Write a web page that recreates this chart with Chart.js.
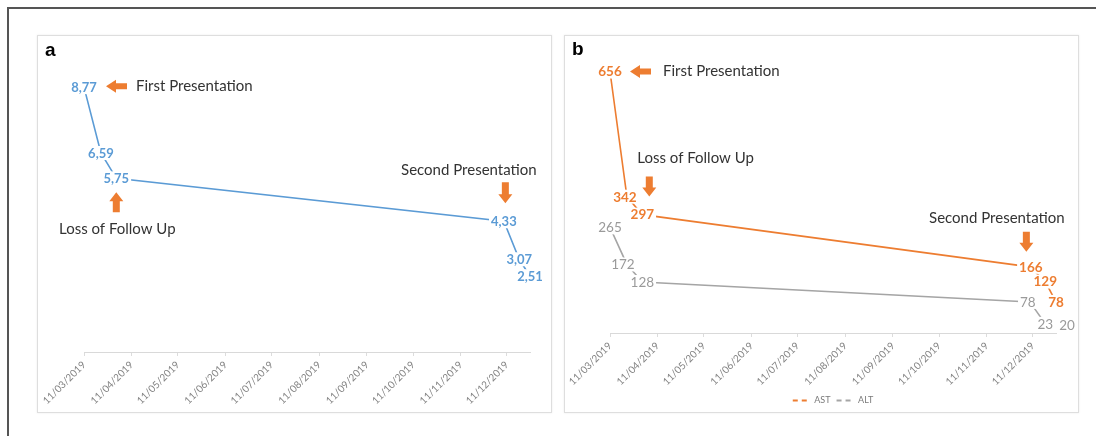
<!DOCTYPE html>
<html><head><meta charset="utf-8">
<script src="https://cdn.jsdelivr.net/npm/chart.js@4.4.1/dist/chart.umd.min.js"></script>
<style>
html,body{margin:0;padding:0;background:#fff;width:1096px;height:436px;overflow:hidden;font-family:Lato,"Open Sans",sans-serif;}
#frame{position:absolute;left:7px;top:7px;width:1200px;height:600px;border-left:2px solid #555;border-top:2px solid #555;}
.panel{position:absolute;top:35px;width:515px;height:378px;border:1px solid #dedede;box-sizing:border-box;box-shadow:0 0 2px rgba(0,0,0,0.08);}
#pa{left:37px;} #pb{left:564px;}
.cv{position:absolute;top:35px;}
#ca{left:37px;} #cb{left:564px;}
.lbl{position:absolute;font-family:"Liberation Sans",Arial,sans-serif;font-weight:bold;font-size:19px;color:#000;line-height:1;}
</style></head><body>
<div id="frame"></div>
<div class="panel" id="pa"></div><div class="panel" id="pb"></div>
<canvas id="ca" class="cv" width="515" height="378"></canvas>
<canvas id="cb" class="cv" width="515" height="380"></canvas>
<div class="lbl" style="left:45px;top:40px;">a</div>
<div class="lbl" style="left:572px;top:39px;">b</div>
<script>
// ---- data ----
const dates = ['11/03/2019','22/03/2019','01/04/2019','09/12/2019','19/12/2019','26/12/2019'];
const panelAValues = [8.77, 6.59, 5.75, 4.33, 3.07, 2.51];
const astValues = [656, 342, 297, 166, 129, 78];
const altValues = [265, 172, 128, 78, 23, 20];
const tickLabels = ['11/03/2019','11/04/2019','11/05/2019','11/06/2019','11/07/2019','11/08/2019','11/09/2019','11/10/2019','11/11/2019','11/12/2019'];

// ---- helpers ----
function toUTC(s){const p=s.split('/');return Date.UTC(+p[2],+p[1]-1,+p[0]);}
const origin = toUTC(tickLabels[0]);
const dayOf = s => (toUTC(s)-origin)/86400000;
const xDays = dates.map(dayOf);
const tickDays = tickLabels.map(dayOf);
const pts = vals => vals.map((v,i)=>({x:xDays[i], y:v}));

function drawArrow(ctx, x1, y1, x2, y2, shaft, head, headLen, color){
  const ang = Math.atan2(y2-y1, x2-x1), len = Math.hypot(x2-x1, y2-y1);
  ctx.save(); ctx.translate(x1,y1); ctx.rotate(ang);
  ctx.beginPath();
  ctx.moveTo(0,-shaft/2); ctx.lineTo(len-headLen,-shaft/2); ctx.lineTo(len-headLen,-head/2);
  ctx.lineTo(len,0); ctx.lineTo(len-headLen,head/2); ctx.lineTo(len-headLen,shaft/2); ctx.lineTo(0,shaft/2);
  ctx.closePath(); ctx.fillStyle=color; ctx.fill(); ctx.restore();
}

const valueLabelPlugin = {
  id:'valueLabels',
  afterDatasetsDraw(chart, args, opts){
    const ctx = chart.ctx;
    (opts.sets||[]).forEach((st, di)=>{
      const meta = chart.getDatasetMeta(di);
      const ds = chart.data.datasets[di];
      ctx.save();
      ctx.font = st.font; ctx.textAlign='center'; ctx.textBaseline='middle';
      meta.data.forEach((el, i)=>{
        const txt = st.format(ds.data[i].y);
        const dx = (st.dx && st.dx[i]) || 0;
        const x = el.x + dx, y = el.y;
        const w = ctx.measureText(txt).width;
        const l = Math.min(x - w/2 - 2, el.x - 2), r = Math.max(x + w/2 + 2, el.x + 2);
        ctx.fillStyle = '#fff';
        ctx.fillRect(l, y - 7, r - l, 14);
        ctx.fillStyle = st.color;
        ctx.fillText(txt, x, y+0.5);
      });
      ctx.restore();
    });
  }
};

const notesPlugin = {
  id:'notes',
  afterDraw(chart, args, opts){
    const ctx = chart.ctx;
    (opts.items||[]).forEach(it=>{
      const el = chart.getDatasetMeta(it.ds).data[it.idx];
      if(it.type==='arrow'){
        drawArrow(ctx, el.x+it.from[0], el.y+it.from[1], el.x+it.to[0], el.y+it.to[1], it.shaft, it.head, it.headLen, '#ed7d31');
      } else {
        ctx.save();
        ctx.font = '15px Lato, "Open Sans", sans-serif';
        ctx.fillStyle = '#333333'; ctx.textAlign = it.align; ctx.textBaseline='middle';
        ctx.fillText(it.text, el.x+it.dx, el.y+it.dy);
        ctx.restore();
      }
    });
  }
};

function xScale(h){
  return {
    type:'linear', min:0, max:xDays[xDays.length-1],
    afterBuildTicks: s => { s.ticks = tickDays.map(v=>({value:v})); },
    afterFit: s => { s.height = h; },
    ticks:{autoSkip:false, minRotation:45, maxRotation:45, padding:3,
      color:'#828282', font:{family:'Lato', size:10},
      callback:(v,i)=>tickLabels[i]},
    grid:{display:true, drawOnChartArea:false, drawTicks:true, tickLength:4, color:'#dcdcdc'},
    border:{display:true, color:'#d9d9d9', width:1}
  };
}

new Chart(document.getElementById('ca'), {
  type:'line',
  data:{datasets:[{label:'a', data:pts(panelAValues), borderColor:'#5b9bd5', borderWidth:1.6, pointRadius:0, tension:0}]},
  options:{
    responsive:false, animation:false,
    layout:{padding:{left:47, right:22, top:15, bottom:0}},
    scales:{ x:xScale(61), y:{display:false, min:0, max:10} },
    plugins:{
      legend:{display:false}, tooltip:{enabled:false},
      valueLabels:{sets:[{font:'bold 13px Lato', color:'#5b9bd5', format:v=>v.toFixed(2).replace('.',',')}]},
      notes:{items:[
        {type:'arrow', ds:0, idx:0, from:[43,-1], to:[22,-1], shaft:6, head:13, headLen:10},
        {type:'text', ds:0, idx:0, dx:52, dy:-1, text:'First Presentation', align:'left'},
        {type:'arrow', ds:0, idx:2, from:[0,34], to:[0,14], shaft:7, head:14, headLen:9},
        {type:'text', ds:0, idx:2, dx:1, dy:51, text:'Loss of Follow Up', align:'center'},
        {type:'text', ds:0, idx:3, dx:-35, dy:-51, text:'Second Presentation', align:'center'},
        {type:'arrow', ds:0, idx:3, from:[1.5,-39], to:[1.5,-18], shaft:7, head:14, headLen:9}
      ]}
    }
  },
  plugins:[valueLabelPlugin, notesPlugin]
});

new Chart(document.getElementById('cb'), {
  type:'line',
  data:{datasets:[
    {label:'AST', data:pts(astValues), borderColor:'#ed7d31', borderWidth:1.6, pointRadius:0, tension:0},
    {label:'ALT', data:pts(altValues), borderColor:'#a5a5a5', borderWidth:1.6, pointRadius:0, tension:0}
  ]},
  options:{
    responsive:false, animation:false,
    layout:{padding:{left:46, right:23, top:19, bottom:0}},
    scales:{ x:xScale(57), y:{display:false, min:0, max:700} },
    plugins:{
      tooltip:{enabled:false},
      legend:{display:true, position:'bottom',
        labels:{usePointStyle:true, pointStyleWidth:17, padding:6, color:'#7a7a7a', font:{family:'Lato', size:9},
          generateLabels: ch => ch.data.datasets.map((d,i)=>({text:d.label, strokeStyle:d.borderColor, fillStyle:d.borderColor,
            lineWidth:2, lineDash:[5,4], pointStyle:'line', datasetIndex:i, fontColor:'#7a7a7a'}))}},
      valueLabels:{sets:[
        {font:'bold 13.5px Lato', color:'#ed7d31', format:v=>String(v), dx:[0,-2,0,1,0,0]},
        {font:'13.5px Lato', color:'#9a9a9a', format:v=>String(v), dx:[0,-4,0,-2,0,11]}
      ]},
      notes:{items:[
        {type:'arrow', ds:0, idx:0, from:[41,0], to:[20,0], shaft:6, head:13, headLen:10},
        {type:'text', ds:0, idx:0, dx:53, dy:0, text:'First Presentation', align:'left'},
        {type:'text', ds:0, idx:2, dx:-5, dy:-56, text:'Loss of Follow Up', align:'left'},
        {type:'arrow', ds:0, idx:2, from:[7,-38], to:[7,-18], shaft:7, head:14, headLen:9},
        {type:'text', ds:0, idx:3, dx:-33, dy:-49, text:'Second Presentation', align:'center'},
        {type:'arrow', ds:0, idx:3, from:[-3.5,-35], to:[-3.5,-15], shaft:7, head:14, headLen:9}
      ]}
    }
  },
  plugins:[valueLabelPlugin, notesPlugin]
});
</script>
</body></html>
